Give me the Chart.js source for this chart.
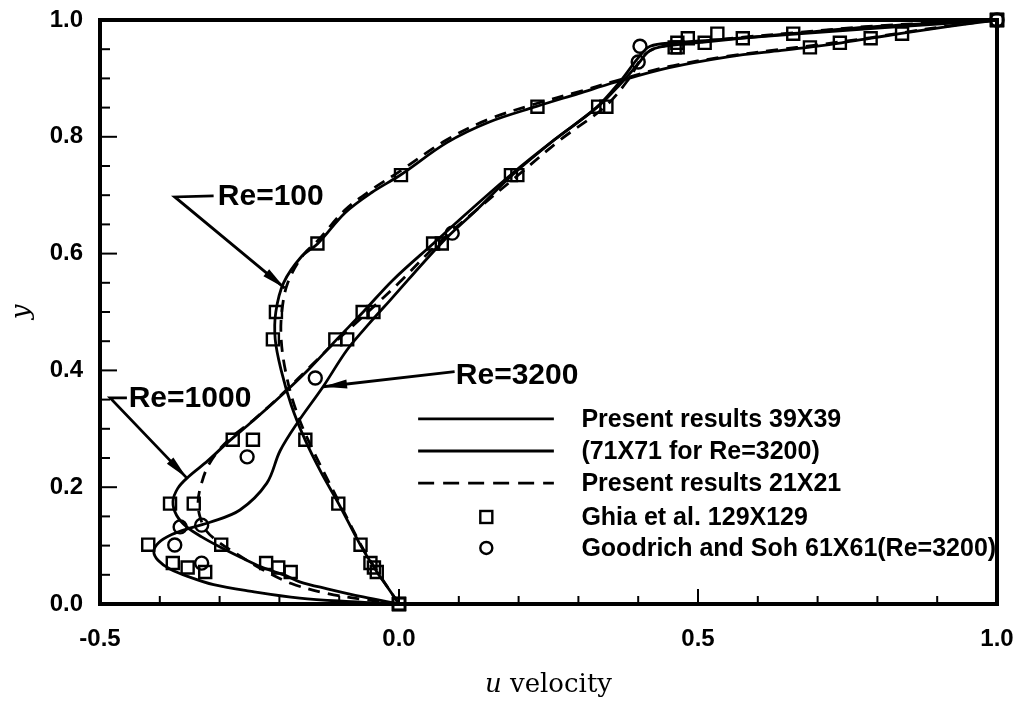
<!DOCTYPE html>
<html>
<head>
<meta charset="utf-8">
<script src="https://cdn.jsdelivr.net/npm/chart.js@4.4.1/dist/chart.umd.min.js"></script>
<style>
  html, body { margin: 0; padding: 0; background: #ffffff; }
  #wrap { width: 1017px; height: 720px; position: relative; }
  canvas { display: block; }
</style>
</head>
<body>
<div id="wrap"><canvas id="chart" width="1017" height="720"></canvas></div>
<script>
// ---- u-velocity profiles along the vertical centreline (u, y pairs) ----
// Present results 39X39 (71X71 for Re=3200)
const re100U  = [0, -0.020, -0.037, -0.064, -0.101, -0.130, -0.157, -0.180, -0.197, -0.207, -0.206, -0.193, -0.163, -0.136, -0.090, -0.045, 0.003, 0.080, 0.150, 0.230, 0.300, 0.360, 0.450, 0.550, 0.640, 0.690, 0.740, 0.790, 0.840, 0.920, 1.0];
const re100Y  = [0, 0.030, 0.055, 0.100, 0.172, 0.225, 0.281, 0.340, 0.400, 0.453, 0.500, 0.550, 0.595, 0.617, 0.670, 0.705, 0.735, 0.790, 0.825, 0.852, 0.874, 0.893, 0.918, 0.937, 0.948, 0.954, 0.961, 0.969, 0.977, 0.989, 1.0];

const re1000U = [0, -0.060, -0.120, -0.166, -0.190, -0.210, -0.232, -0.265, -0.300, -0.330, -0.355, -0.372, -0.378, -0.370, -0.352, -0.320, -0.285, -0.245, -0.200, -0.150, -0.106, -0.060, -0.010, 0.057, 0.120, 0.187, 0.260, 0.333, 0.370, 0.400, 0.420, 0.450, 0.510, 0.575, 0.660, 0.800, 1.0];
const re1000Y = [0, 0.012, 0.026, 0.038, 0.049, 0.056, 0.064, 0.080, 0.098, 0.115, 0.132, 0.152, 0.175, 0.198, 0.218, 0.245, 0.278, 0.313, 0.354, 0.403, 0.451, 0.500, 0.555, 0.617, 0.675, 0.735, 0.795, 0.852, 0.890, 0.925, 0.948, 0.956, 0.962, 0.969, 0.977, 0.989, 1.0];

const re3200U = [0, -0.080, -0.166, -0.250, -0.310, -0.350, -0.383, -0.403, -0.410, -0.402, -0.380, -0.350, -0.316, -0.266, -0.221, -0.199, -0.170, -0.127, -0.087, -0.050, -0.015, 0.070, 0.130, 0.190, 0.260, 0.330, 0.370, 0.400, 0.420, 0.460, 0.530, 0.650, 0.800, 1.0];
const re3200Y = [0, 0.004, 0.010, 0.022, 0.033, 0.046, 0.060, 0.075, 0.090, 0.105, 0.119, 0.130, 0.140, 0.161, 0.207, 0.262, 0.310, 0.372, 0.435, 0.480, 0.520, 0.617, 0.675, 0.735, 0.795, 0.850, 0.895, 0.935, 0.955, 0.961, 0.966, 0.975, 0.986, 1.0];

// Present results 21X21
const re100CoarseU  = [0, -0.036, -0.063, -0.099, -0.152, -0.175, -0.190, -0.197, -0.196, -0.186, -0.160, -0.136, -0.090, -0.045, 0.0, 0.080, 0.150, 0.230, 0.300, 0.360, 0.450, 0.550, 0.640, 0.690, 0.790, 0.840, 0.920, 1.0];
const re100CoarseY  = [0, 0.055, 0.100, 0.172, 0.281, 0.340, 0.400, 0.453, 0.500, 0.550, 0.598, 0.622, 0.675, 0.710, 0.740, 0.795, 0.830, 0.857, 0.877, 0.895, 0.920, 0.938, 0.950, 0.956, 0.970, 0.978, 0.990, 1.0];

const re1000CoarseU = [0, -0.060, -0.120, -0.180, -0.230, -0.270, -0.300, -0.322, -0.333, -0.336, -0.332, -0.320, -0.300, -0.275, -0.240, -0.195, -0.145, -0.100, -0.052, 0.0, 0.065, 0.130, 0.200, 0.270, 0.345, 0.385, 0.410, 0.440, 0.500, 0.570, 0.660, 0.800, 1.0];
const re1000CoarseY = [0, 0.008, 0.018, 0.035, 0.060, 0.085, 0.105, 0.125, 0.150, 0.175, 0.200, 0.235, 0.265, 0.290, 0.318, 0.360, 0.410, 0.455, 0.500, 0.550, 0.617, 0.675, 0.735, 0.795, 0.852, 0.900, 0.940, 0.955, 0.962, 0.970, 0.978, 0.990, 1.0];

// Ghia et al. 129X129
const ghiaY      = [1.0, 0.9766, 0.9688, 0.9609, 0.9531, 0.8516, 0.7344, 0.6172, 0.5000, 0.4531, 0.2813, 0.1719, 0.1016, 0.0703, 0.0625, 0.0547, 0.0];
const ghia100U   = [1.0, 0.84123, 0.78871, 0.73722, 0.68717, 0.23151, 0.00332, -0.13641, -0.20581, -0.21090, -0.15662, -0.10150, -0.06434, -0.04775, -0.04192, -0.03717, 0.0];
const ghia1000U  = [1.0, 0.65928, 0.57492, 0.51117, 0.46604, 0.33304, 0.18719, 0.05702, -0.06080, -0.10648, -0.27805, -0.38289, -0.29730, -0.22220, -0.20196, -0.18109, 0.0];
const ghia3200U  = [1.0, 0.53236, 0.48296, 0.46547, 0.46101, 0.34682, 0.19791, 0.07156, -0.04272, -0.08664, -0.24427, -0.34323, -0.41933, -0.37827, -0.35344, -0.32407, 0.0];

// Goodrich and Soh 61X61 (Re=3200)
const goodrichU = [1.0, 0.403, 0.400, 0.089, -0.140, -0.254, -0.330, -0.366, -0.375, -0.330];
const goodrichY = [1.0, 0.955, 0.928, 0.635, 0.387, 0.252, 0.135, 0.132, 0.101, 0.070];

// Axis ticks
const xTickValues = [-0.5, 0.0, 0.5, 1.0];
const yTickValues = [0.0, 0.2, 0.4, 0.6, 0.8, 1.0];

// Legend entries and curve labels
const legendLabels = [
  'Present results 39X39',
  '(71X71 for Re=3200)',
  'Present results 21X21',
  'Ghia et al. 129X129',
  'Goodrich and Soh 61X61(Re=3200)'
];
const curveLabels = ['Re=100', 'Re=1000', 'Re=3200'];

const pts = (us, ys) => us.map((u, i) => ({ x: u, y: ys[i] }));

const lineStyle = {
  showLine: true, pointRadius: 0, borderColor: '#000', borderWidth: 2.8,
  tension: 0.35, fill: false, clip: 4
};
const markerStyle = {
  showLine: false, borderColor: '#000', borderWidth: 2.4,
  backgroundColor: 'rgba(0,0,0,0)', clip: false
};

const datasets = [
  Object.assign({ label: 'Re=100 39X39',  data: pts(re100U, re100Y) }, lineStyle),
  Object.assign({ label: 'Re=1000 39X39', data: pts(re1000U, re1000Y) }, lineStyle),
  Object.assign({ label: 'Re=3200 71X71', data: pts(re3200U, re3200Y) }, lineStyle),
  Object.assign({ label: 'Re=100 21X21',  data: pts(re100CoarseU, re100CoarseY) }, lineStyle, { borderDash: [12, 8] }),
  Object.assign({ label: 'Re=1000 21X21', data: pts(re1000CoarseU, re1000CoarseY) }, lineStyle, { borderDash: [12, 8] }),
  Object.assign({ label: 'Ghia Re=100',  data: pts(ghia100U, ghiaY),  pointStyle: 'rect', pointRadius: 8.5 }, markerStyle),
  Object.assign({ label: 'Ghia Re=1000', data: pts(ghia1000U, ghiaY), pointStyle: 'rect', pointRadius: 8.5 }, markerStyle),
  Object.assign({ label: 'Ghia Re=3200', data: pts(ghia3200U, ghiaY), pointStyle: 'rect', pointRadius: 8.5 }, markerStyle),
  Object.assign({ label: 'Goodrich Re=3200', data: pts(goodrichU, goodrichY), pointStyle: 'circle', pointRadius: 6.5 }, markerStyle)
];

const SANS = '"Liberation Sans", Arial, Helvetica, sans-serif';
const SERIF = '"DejaVu Serif", "Liberation Serif", serif';

// Axis boxes get a fixed size and no extra overflow padding
const fixBox = (s, w, h) => {
  if (w !== null) s.width = w;
  if (h !== null) s.height = h;
  s.paddingTop = 0; s.paddingBottom = 0; s.paddingLeft = 0; s.paddingRight = 0;
};

// Draws the frame, inward tick marks, legend, curve labels and axis titles
const decorations = {
  id: 'decorations',
  afterDatasetsDraw(chart) {
    const ctx = chart.ctx;
    const a = chart.chartArea;
    const xs = chart.scales.x, ys = chart.scales.y;
    ctx.save();

    // inward tick marks
    ctx.strokeStyle = '#000';
    ctx.lineCap = 'butt';
    ctx.lineWidth = 2;
    for (let k = -4; k <= 9; k++) {
      const v = k / 10;
      const px = xs.getPixelForValue(v);
      const major = (k % 5 === 0);
      ctx.beginPath();
      ctx.moveTo(px, a.bottom);
      ctx.lineTo(px, a.bottom - (major ? 15 : 8));
      ctx.stroke();
    }
    for (let k = 1; k <= 19; k++) {
      const v = k / 20;
      const py = ys.getPixelForValue(v);
      const major = (k % 4 === 0);
      ctx.beginPath();
      ctx.moveTo(a.left, py);
      ctx.lineTo(a.left + (major ? 17 : 10), py);
      ctx.stroke();
    }

    // frame
    ctx.lineWidth = 4;
    ctx.lineJoin = 'miter';
    ctx.strokeRect(a.left, a.top, a.right - a.left, a.bottom - a.top);

    // legend
    const legX0 = xs.getPixelForValue(0.032), legX1 = xs.getPixelForValue(0.259);
    const legMark = xs.getPixelForValue(0.146);
    const legText = xs.getPixelForValue(0.305);
    const rowY = [0.317, 0.262, 0.207, 0.149, 0.096].map(v => ys.getPixelForValue(v));
    ctx.lineWidth = 2.8;
    ctx.font = 'bold 25px ' + SANS;
    ctx.fillStyle = '#000';
    ctx.textBaseline = 'middle';
    ctx.textAlign = 'left';
    for (let i = 0; i < 3; i++) {
      ctx.setLineDash(i === 2 ? [16, 9] : []);
      ctx.beginPath();
      ctx.moveTo(legX0, rowY[i]);
      ctx.lineTo(legX1, rowY[i]);
      ctx.stroke();
    }
    ctx.setLineDash([]);
    ctx.lineWidth = 2.4;
    ctx.strokeRect(legMark - 6, rowY[3] - 6, 12, 12);
    ctx.beginPath();
    ctx.arc(legMark, rowY[4], 6, 0, Math.PI * 2);
    ctx.stroke();
    legendLabels.forEach((t, i) => ctx.fillText(t, legText, rowY[i] + 1));

    // curve labels with pointer arrows
    const P = (u, y) => [xs.getPixelForValue(u), ys.getPixelForValue(y)];
    const arrowHead = (from, tip) => {
      const dx = tip[0] - from[0], dy = tip[1] - from[1];
      const L = Math.hypot(dx, dy), ux = dx / L, uy = dy / L;
      const len = 24, hw = 4.5;
      const bx = tip[0] - ux * len, by = tip[1] - uy * len;
      ctx.beginPath();
      ctx.moveTo(tip[0], tip[1]);
      ctx.lineTo(bx - uy * hw, by + ux * hw);
      ctx.lineTo(bx + uy * hw, by - ux * hw);
      ctx.closePath();
      ctx.fill();
    };
    const pointer = (pts) => {
      ctx.beginPath();
      ctx.moveTo(pts[0][0], pts[0][1]);
      for (let i = 1; i < pts.length; i++) ctx.lineTo(pts[i][0], pts[i][1]);
      ctx.stroke();
      arrowHead(pts[pts.length - 2], pts[pts.length - 1]);
    };
    ctx.lineWidth = 2.8;
    ctx.font = 'bold 30px ' + SANS;
    ctx.textBaseline = 'middle';

    // Re=100
    pointer([P(-0.310, 0.699), P(-0.375, 0.697), P(-0.191, 0.541)]);
    ctx.fillText(curveLabels[0], P(-0.303, 0.699)[0], P(-0.303, 0.699)[1] + 1);
    // Re=1000
    pointer([P(-0.455, 0.353), P(-0.483, 0.353), P(-0.355, 0.216)]);
    ctx.fillText(curveLabels[1], P(-0.452, 0.353)[0], P(-0.452, 0.353)[1] + 1);
    // Re=3200
    pointer([P(0.093, 0.398), P(-0.127, 0.372)]);
    ctx.fillText(curveLabels[2], P(0.095, 0.392)[0], P(0.095, 0.392)[1] + 1);

    // axis titles
    ctx.fillStyle = '#000';
    ctx.textBaseline = 'alphabetic';
    ctx.font = 'italic 26px ' + SERIF;
    const uW = ctx.measureText('u').width;
    ctx.font = '26px ' + SERIF;
    const vW = ctx.measureText(' velocity').width;
    const cx = (a.left + a.right) / 2;
    const tx = cx - (uW + vW) / 2;
    const ty = 692;
    ctx.font = 'italic 26px ' + SERIF;
    ctx.fillText('u', tx, ty);
    ctx.font = '26px ' + SERIF;
    ctx.fillText(' velocity', tx + uW, ty);

    ctx.translate(22, (a.top + a.bottom) / 2);
    ctx.rotate(-Math.PI / 2);
    ctx.textAlign = 'center';
    ctx.textBaseline = 'middle';
    ctx.font = 'italic 26px ' + SERIF;
    ctx.fillText('y', 0, 0);

    ctx.restore();
  }
};

new Chart(document.getElementById('chart').getContext('2d'), {
  type: 'scatter',
  data: { datasets },
  options: {
    responsive: false,
    animation: false,
    devicePixelRatio: 1,
    layout: { autoPadding: false, padding: { top: 20, right: 20, left: 0, bottom: 0 } },
    plugins: { legend: { display: false }, tooltip: { enabled: false } },
    scales: {
      x: {
        type: 'linear', min: -0.5, max: 1.0,
        afterBuildTicks(s) { s.ticks = xTickValues.map(v => ({ value: v })); },
        afterFit(s) { fixBox(s, null, 116); },
        grid: { display: false, drawTicks: false },
        border: { display: false },
        ticks: {
          color: '#000', padding: 21, maxRotation: 0, autoSkip: false,
          font: { family: SANS, size: 24, weight: 'bold' },
          callback: v => Number(v).toFixed(1)
        }
      },
      y: {
        type: 'linear', min: 0, max: 1.0,
        afterBuildTicks(s) { s.ticks = yTickValues.map(v => ({ value: v })); },
        afterFit(s) { fixBox(s, 100, null); },
        grid: { display: false, drawTicks: false },
        border: { display: false },
        ticks: {
          color: '#000', padding: 17, autoSkip: false,
          font: { family: SANS, size: 24, weight: 'bold' },
          callback: v => Number(v).toFixed(1)
        }
      }
    }
  },
  plugins: [decorations]
});
</script>
</body>
</html>
